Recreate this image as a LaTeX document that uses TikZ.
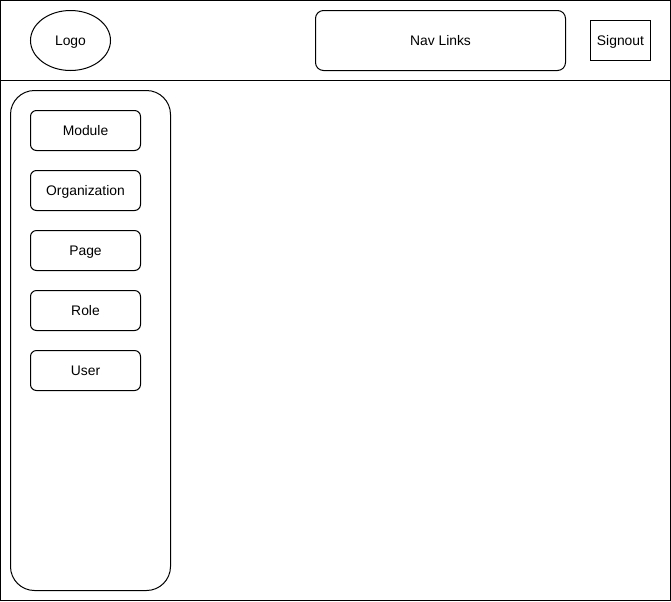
\documentclass[tikz,border=0pt]{standalone}
\usepackage{fontspec}
\setmainfont{Liberation Sans}
\usetikzlibrary{positioning, shapes}

\begin{document}
\begin{tikzpicture}[x=0.75pt, y=-0.75pt, line width=0.75pt,
		every node/.style={font=\fontsize{10.4}{12}\selectfont, inner sep=0pt, outer sep=0pt, text height=1.6ex, text depth=0.25ex},
		menubtn/.style={rectangle, draw, rounded corners=4.5pt, minimum width=82.5pt, minimum height=30pt}]
			\useasboundingbox (0,0) rectangle (671,601);
			\node[rectangle, draw, minimum width=502.5pt, minimum height=450pt] (page) at (335.5,300.5) {};
			\coordinate (hdrL) at (0.5,80.5);
			\coordinate (hdrR) at (670.5,80.5);
			\draw (hdrL) -- (hdrR);
			
			\node[ellipse, draw, minimum width=60pt, minimum height=45pt] (logo) at (70.5,40.5) {Logo};
			\node[rectangle, draw, rounded corners=6pt, minimum width=187.5pt, minimum height=45pt] (nav) at (440.5,40.5) {Nav Links};
			\node[rectangle, draw, minimum width=45pt, minimum height=30pt] (signout) at (620.5,40.5) {Signout};
			
			\node[rectangle, draw, rounded corners=18pt, minimum width=120pt, minimum height=375pt] (sidebar) at (90.5,340.5) {};
			\node[menubtn] (module) at (85.5,130.5) {Module};
			\node[menubtn, below=15pt of module] (organization) {Organization};
			\node[menubtn, below=15pt of organization] (pagebtn) {Page};
			\node[menubtn, below=15pt of pagebtn] (role) {Role};
			\node[menubtn, below=15pt of role] (user) {User};
		\end{tikzpicture}
\end{document}
